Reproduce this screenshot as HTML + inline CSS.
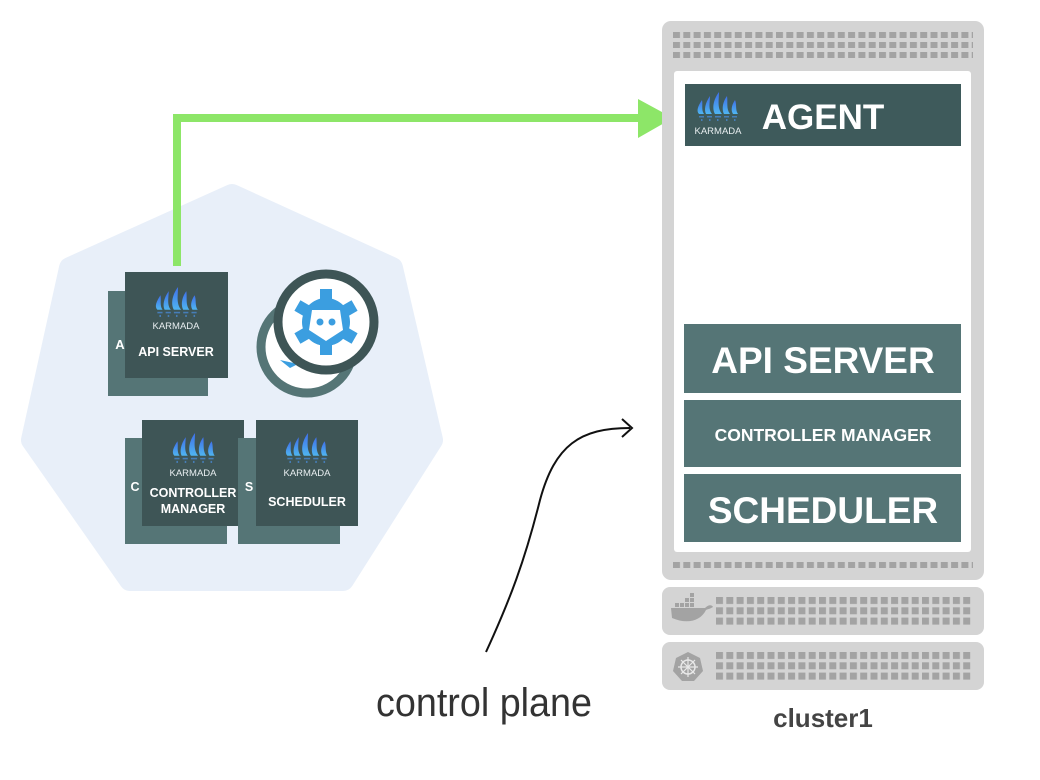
<!DOCTYPE html>
<html><head><meta charset="utf-8"><style>
html,body{margin:0;padding:0;background:#fff;width:1040px;height:780px;overflow:hidden}
svg{display:block}
.t{font-family:"Liberation Sans",sans-serif;font-weight:bold;fill:#fff;text-anchor:middle}
.k{font-family:"Liberation Sans",sans-serif;fill:#e8eef0;text-anchor:middle;font-size:9.5px}
</style></head><body>
<svg width="1040" height="780" viewBox="0 0 1040 780" xmlns="http://www.w3.org/2000/svg">
<defs>
<linearGradient id="fg" x1="0" y1="0" x2="0" y2="1"><stop offset="0" stop-color="#3f6fe8"/><stop offset="1" stop-color="#4fb5f0"/></linearGradient>
<symbol id="logo" viewBox="0 0 44 30">
<g fill="url(#fg)">
<path d="M6 8 C2 14 0 19 3 22 L8 22 C5 18 7 12 6 8Z"/>
<path d="M14 4 C9 11 8 18 10 22 L16 22 C12 17 14 10 14 4Z"/>
<path d="M23 0 C17 8 16 17 19 22 L26 22 C21 16 23 8 23 0Z"/>
<path d="M31 4 C26 11 26 18 28 22 L34 22 C30 17 32 10 31 4Z"/>
<path d="M39 8 C35 14 35 19 37 22 L42 22 C39 18 41 12 39 8Z"/>
</g>
<g fill="#4a8fe0" opacity=".7">
<rect x="3" y="24" width="5" height="1.5"/><rect x="11" y="24" width="5" height="1.5"/><rect x="19" y="24" width="6" height="1.5"/><rect x="28" y="24" width="5" height="1.5"/><rect x="36" y="24" width="5" height="1.5"/>
<rect x="5" y="27" width="1.5" height="2"/><rect x="13" y="27" width="1.5" height="2"/><rect x="21" y="27" width="1.5" height="2"/><rect x="30" y="27" width="1.5" height="2"/><rect x="38" y="27" width="1.5" height="2"/>
</g>
</symbol>
<pattern id="dots" x="673" y="32" width="10.3" height="10" patternUnits="userSpaceOnUse"><rect x="0" y="0" width="7" height="6" fill="#a3a3a3"/></pattern>
<pattern id="dots3" x="673" y="562" width="10.3" height="10" patternUnits="userSpaceOnUse"><rect x="0" y="0" width="7" height="6" fill="#a3a3a3"/></pattern>
<pattern id="dots2" x="716" y="597" width="10.3" height="10.3" patternUnits="userSpaceOnUse"><rect x="0" y="0" width="7" height="7" fill="#a3a3a3"/></pattern>
<pattern id="dots4" x="716" y="652" width="10.3" height="10.3" patternUnits="userSpaceOnUse"><rect x="0" y="0" width="7" height="7" fill="#a3a3a3"/></pattern>
</defs>

<polygon points="232,195 392,268 432,440 343,580 130,580 32,440 70,268" fill="#e8eff9" stroke="#e8eff9" stroke-width="22" stroke-linejoin="round"/>

<polyline points="177,266 177,118 644,118" fill="none" stroke="#8de668" stroke-width="8"/>
<polygon points="638,99 673,118 638,138" fill="#8de668"/>

<rect x="108" y="291" width="100" height="105" fill="#557576"/>
<text class="t" x="120" y="349" font-size="13">A</text>
<rect x="125" y="272" width="103" height="106" fill="#3e5556"/>
<use href="#logo" x="154" y="287" width="46" height="31"/>
<text class="k" x="176" y="329">KARMADA</text>
<text class="t" x="176" y="356" font-size="12.5">API SERVER</text>

<rect x="125" y="438" width="102" height="106" fill="#557576"/>
<text class="t" x="135" y="491" font-size="12.5">C</text>
<rect x="142" y="420" width="102" height="106" fill="#3e5556"/>
<use href="#logo" x="171" y="433" width="46" height="31"/>
<text class="k" x="193" y="476">KARMADA</text>
<text class="t" x="193" y="497" font-size="12.5">CONTROLLER</text>
<text class="t" x="193" y="513" font-size="12.5">MANAGER</text>

<rect x="238" y="438" width="102" height="106" fill="#557576"/>
<text class="t" x="249" y="491" font-size="12.5">S</text>
<rect x="256" y="420" width="102" height="106" fill="#3e5556"/>
<use href="#logo" x="284" y="433" width="46" height="31"/>
<text class="k" x="307" y="476">KARMADA</text>
<text class="t" x="307" y="506" font-size="12.5">SCHEDULER</text>

<circle cx="307" cy="347" r="46" fill="#fff" stroke="#557576" stroke-width="9"/>
<path d="M280 360 l10 8 l8 -4 z" fill="#3b9ee0"/>
<circle cx="326" cy="322" r="48" fill="#fff" stroke="#3e5556" stroke-width="9"/>
<g fill="#3b9ee0" transform="translate(326,322)">
<circle r="24"/>
<g>
<rect x="-6" y="-33" width="12" height="12"/>
<rect x="-6" y="-33" width="12" height="12" transform="rotate(60)"/>
<rect x="-6" y="-33" width="12" height="12" transform="rotate(120)"/>
<rect x="-6" y="-33" width="12" height="12" transform="rotate(180)"/>
<rect x="-6" y="-33" width="12" height="12" transform="rotate(240)"/>
<rect x="-6" y="-33" width="12" height="12" transform="rotate(300)"/>
</g>
<path d="M-14 -12 L14 -12 L17 8 L0 19 L-17 8 Z" fill="#fff"/>
<circle cx="-6" cy="0" r="3.5"/><circle cx="6" cy="0" r="3.5"/>
</g>

<rect x="662" y="21" width="322" height="559" rx="9" fill="#d4d4d4"/>
<rect x="673" y="32" width="300" height="26" fill="url(#dots)"/>
<rect x="674" y="71" width="297" height="481" rx="3" fill="#fff"/>
<rect x="685" y="84" width="276" height="62" fill="#3e5a5b"/>
<use href="#logo" x="696" y="92" width="44" height="30"/>
<text class="k" x="718" y="134" font-size="9">KARMADA</text>
<text class="t" x="823" y="129" font-size="35">AGENT</text>
<rect x="684" y="324" width="277" height="69" fill="#557576"/>
<text class="t" x="823" y="373" font-size="37">API SERVER</text>
<rect x="684" y="400" width="277" height="67" fill="#557576"/>
<text class="t" x="823" y="441" font-size="17.5">CONTROLLER MANAGER</text>
<rect x="684" y="474" width="277" height="68" fill="#557576"/>
<text class="t" x="823" y="523" font-size="37">SCHEDULER</text>
<rect x="673" y="562" width="300" height="6" fill="url(#dots3)"/>

<rect x="662" y="587" width="322" height="48" rx="8" fill="#d4d4d4"/>
<rect x="716" y="597" width="257" height="28" fill="url(#dots2)"/>
<g fill="#a3a3a3">
<path d="M671 608 L705 608 C709 604 712 605 713 607 C710 609 708 609 706 610 C700 622 686 624 672 618 Z"/>
<rect x="675" y="603" width="4" height="4"/><rect x="680" y="603" width="4" height="4"/><rect x="685" y="603" width="4" height="4"/><rect x="690" y="603" width="4" height="4"/><rect x="685" y="598" width="4" height="4"/><rect x="690" y="598" width="4" height="4"/><rect x="690" y="593" width="4" height="4"/>
</g>
<rect x="662" y="642" width="322" height="48" rx="8" fill="#d4d4d4"/>
<rect x="716" y="652" width="257" height="28" fill="url(#dots4)"/>
<polygon points="688,652 700,658 703,671 694,681 682,681 673,671 676,658" fill="#a3a3a3"/>
<circle cx="688" cy="667" r="7" fill="none" stroke="#e8e8e8" stroke-width="1.5"/>
<g stroke="#e8e8e8" stroke-width="1.2"><line x1="688" y1="657" x2="688" y2="677"/><line x1="678" y1="667" x2="698" y2="667"/><line x1="681" y1="660" x2="695" y2="674"/><line x1="695" y1="660" x2="681" y2="674"/></g>

<text x="823" y="727" font-family="Liberation Sans, sans-serif" font-weight="bold" font-size="26" fill="#444" text-anchor="middle">cluster1</text>

<path d="M486 652 C510 600 525 560 540 500 C555 445 580 428 630 428" fill="none" stroke="#111" stroke-width="2"/>
<path d="M622 419 L632 428 L622 437" fill="none" stroke="#111" stroke-width="2"/>
<text x="376" y="716" font-family="Liberation Sans Narrow, Liberation Sans, sans-serif" font-size="40" fill="#333" textLength="216" lengthAdjust="spacingAndGlyphs">control plane</text>
</svg>
</body></html>
